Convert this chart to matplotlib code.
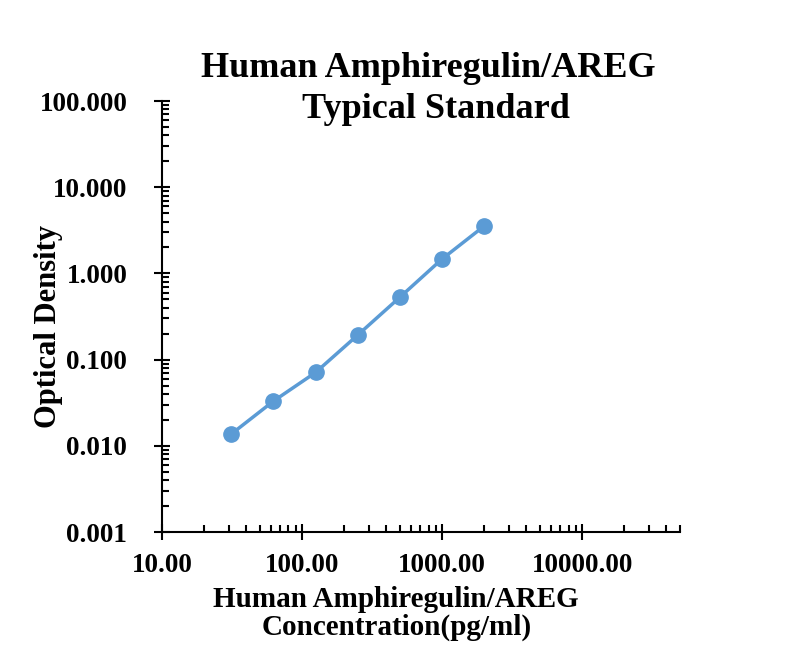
import numpy as np
import matplotlib.pyplot as plt
from matplotlib.ticker import LogLocator, FixedLocator, NullFormatter

plt.rcParams['font.family'] = ['Liberation Serif', 'DejaVu Serif']
plt.rcParams['font.weight'] = 'bold'

conc = [31.25, 62.5, 125, 250, 500, 1000, 2000]
od = [0.0137, 0.033, 0.071, 0.193, 0.53, 1.47, 3.55]

x_ticks = [10, 100, 1000, 10000]
x_labels = ["10.00", "100.00", "1000.00", "10000.00"]
y_ticks = [0.001, 0.01, 0.1, 1, 10, 100]
y_labels = ["0.001", "0.010", "0.100", "1.000", "10.000", "100.000"]

fig = plt.figure(figsize=(8, 6.56), dpi=100)
ax = fig.add_axes([0.2025, 0.189, 0.6475, 0.657])

ax.plot(conc, od, color='#5B9BD5', lw=2.5, marker='o', ms=11,
        markerfacecolor='#5B9BD5', markeredgecolor='#5B9BD5')

ax.set_xscale('log')
ax.set_yscale('log')
ax.set_xlim(10, 50000)
ax.set_ylim(0.001, 100)

ax.xaxis.set_major_locator(FixedLocator(x_ticks))
ax.set_xticklabels(x_labels)
ax.yaxis.set_major_locator(FixedLocator(y_ticks))
ax.set_yticklabels(y_labels)
ax.xaxis.set_minor_locator(LogLocator(base=10, subs=np.arange(2, 10), numticks=20))
ax.yaxis.set_minor_locator(LogLocator(base=10, subs=np.arange(2, 10), numticks=20))
ax.xaxis.set_minor_formatter(NullFormatter())
ax.yaxis.set_minor_formatter(NullFormatter())

ax.tick_params(which='major', direction='inout', length=12, width=1.5, labelsize=19.5)
ax.tick_params(axis='x', which='major', pad=9)
ax.tick_params(axis='y', which='major', pad=19)
ax.tick_params(which='minor', direction='in', length=5, width=1.5)
for lab in ax.get_xticklabels() + ax.get_yticklabels():
    lab.set_fontweight('bold')

for s in ['top', 'right']:
    ax.spines[s].set_visible(False)
for s in ['left', 'bottom']:
    ax.spines[s].set_linewidth(1.5)

# title, two lines
fig.text(0.536, 1 - 77 / 656, "Human Amphiregulin/AREG", fontsize=26,
         fontweight='bold', ha='center', va='baseline')
fig.text(0.545, 1 - 118 / 656, "Typical Standard", fontsize=26,
         fontweight='bold', ha='center', va='baseline')

# x axis label, two lines
fig.text(0.495, 1 - 607 / 656, "Human Amphiregulin/AREG", fontsize=21,
         fontweight='bold', ha='center', va='baseline')
fig.text(0.496, 1 - 635 / 656, "Concentration(pg/ml)", fontsize=21,
         fontweight='bold', ha='center', va='baseline')

ax.set_ylabel("Optical Density", fontsize=22, fontweight='bold')
ax.yaxis.set_label_coords(-0.191, 0.478)

fig.savefig("out.png", dpi=100)
